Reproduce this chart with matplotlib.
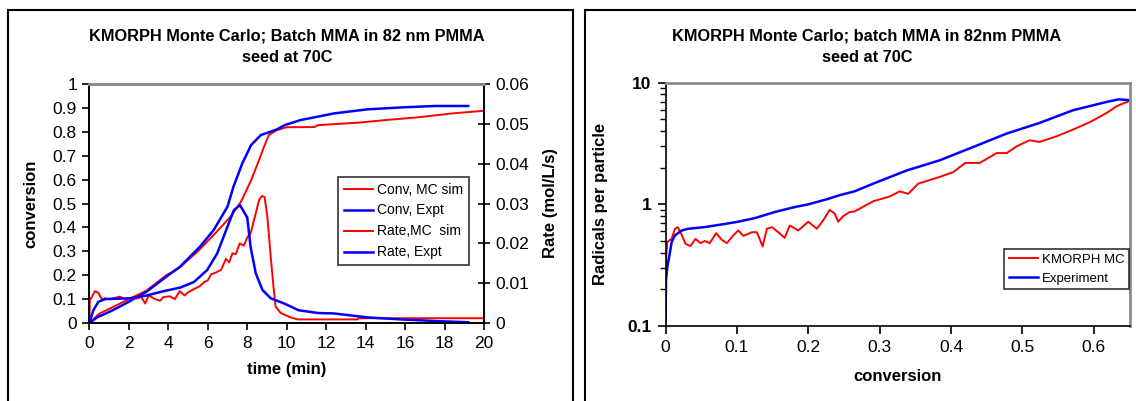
import matplotlib
matplotlib.use("Agg")
import matplotlib.pyplot as plt
from matplotlib.patches import Rectangle
from matplotlib.ticker import FixedLocator, LogLocator, NullFormatter

plt.rcParams['font.family'] = ['Liberation Sans', 'DejaVu Sans']

RED = '#ff0000'
BLUE = '#0000ff'

# ---- left chart: conversion and rate vs time ----
t_conv_mc = [0, 0.5, 1.2, 2.0, 2.9, 3.9, 4.5, 5.5, 6.5, 7.2, 7.7, 8.2, 8.6, 8.85, 9.1, 9.5,
             10.0, 11.4, 11.6, 13.6, 15.0, 16.7, 18.4, 20.0]
conv_mc = [0, 0.039, 0.067, 0.10, 0.136, 0.20, 0.227, 0.30, 0.386, 0.449, 0.51, 0.598, 0.682,
           0.738, 0.787, 0.807, 0.819, 0.82, 0.828, 0.838, 0.849, 0.861, 0.877, 0.888]

t_conv_ex = [0, 0.4, 1.2, 2.0, 2.9, 3.9, 4.6, 5.6, 6.3, 7.0, 7.3, 7.75, 8.2, 8.7, 9.0, 9.5,
             9.9, 10.7, 12.4, 14.1, 15.8, 17.5, 19.2]
conv_ex = [0, 0.024, 0.054, 0.089, 0.131, 0.194, 0.236, 0.319, 0.389, 0.487, 0.57, 0.668,
           0.745, 0.787, 0.795, 0.81, 0.828, 0.849, 0.877, 0.894, 0.902, 0.908, 0.908]

t_rate_mc = [0, 0.02, 0.12, 0.28, 0.45, 0.62, 0.78, 1.03, 1.53, 1.87, 2.45, 2.62, 2.83, 3.0,
             3.33, 3.58, 3.75, 4.08, 4.33, 4.58, 4.83, 5.0, 5.33, 5.58, 5.83, 6.0, 6.17, 6.33,
             6.67, 6.92, 7.08, 7.25, 7.42, 7.62, 7.83, 8.0, 8.17, 8.43, 8.6, 8.75, 8.88, 9.02,
             9.19, 9.33, 9.44, 9.7, 10.2, 10.55, 13.6, 13.65, 20.0]
rate_mc = [0, 0.0058, 0.0065, 0.0080, 0.0076, 0.0060, 0.0062, 0.0060, 0.0066, 0.0060, 0.0062,
           0.0066, 0.0049, 0.0069, 0.0060, 0.0056, 0.0065, 0.0067, 0.0060, 0.0080, 0.0069,
           0.0077, 0.0086, 0.0092, 0.0103, 0.0107, 0.0122, 0.0125, 0.0133, 0.0161, 0.0152,
           0.0175, 0.0173, 0.0200, 0.0194, 0.0215, 0.0225, 0.0275, 0.0309, 0.0319, 0.0316,
           0.0267, 0.0166, 0.0091, 0.0041, 0.0025, 0.0014, 0.0009, 0.0009, 0.0012, 0.0012]

t_rate_ex = [0, 0.2, 0.45, 0.8, 2.05, 2.9, 3.77, 4.61, 5.3, 5.97, 6.48, 6.99, 7.32, 7.63, 8.0,
             8.17, 8.43, 8.77, 9.19, 9.87, 10.6, 11.6, 12.4, 14.1, 15.8, 17.5, 19.2]
rate_ex = [0, 0.0032, 0.0053, 0.0060, 0.0062, 0.0069, 0.0080, 0.0089, 0.0103, 0.0133, 0.0175,
           0.0241, 0.0283, 0.0296, 0.0265, 0.0191, 0.0125, 0.0083, 0.0062, 0.0049, 0.0032,
           0.0025, 0.0024, 0.0014, 0.0009, 0.0005, 0.0002]

# ---- right chart: radicals per particle vs conversion ----
x_kmorph = [0, 0.001, 0.0025, 0.0063, 0.0086, 0.0133, 0.017, 0.022, 0.028, 0.035, 0.042, 0.049,
            0.055, 0.062, 0.071, 0.079, 0.086, 0.095, 0.102, 0.109, 0.121, 0.128, 0.133, 0.136,
            0.142, 0.149, 0.158, 0.167, 0.174, 0.186, 0.2, 0.212, 0.221, 0.23, 0.237, 0.242,
            0.249, 0.258, 0.265, 0.291, 0.314, 0.328, 0.34, 0.354, 0.384, 0.403, 0.42, 0.44,
            0.464, 0.478, 0.492, 0.51, 0.524, 0.548, 0.571, 0.595, 0.618, 0.632, 0.65]
n_kmorph = [0.22, 0.37, 0.49, 0.51, 0.52, 0.63, 0.65, 0.574, 0.474, 0.454, 0.52, 0.48, 0.50,
            0.48, 0.58, 0.51, 0.48, 0.556, 0.61, 0.55, 0.59, 0.59, 0.50, 0.45, 0.63, 0.65, 0.59,
            0.53, 0.67, 0.61, 0.72, 0.63, 0.74, 0.90, 0.84, 0.72, 0.80, 0.865, 0.875, 1.06, 1.16,
            1.28, 1.22, 1.48, 1.68, 1.84, 2.19, 2.19, 2.64, 2.64, 3.0, 3.36, 3.26, 3.63, 4.12,
            4.76, 5.64, 6.41, 7.08]

x_expt = [0, 0.0007, 0.0025, 0.0063, 0.0086, 0.0133, 0.0227, 0.032, 0.055, 0.079, 0.0997,
          0.125, 0.153, 0.181, 0.2, 0.228, 0.244, 0.265, 0.291, 0.338, 0.384, 0.431, 0.478,
          0.524, 0.571, 0.618, 0.635, 0.65]
n_expt = [0.1, 0.237, 0.305, 0.405, 0.49, 0.556, 0.61, 0.63, 0.65, 0.684, 0.716, 0.77, 0.865,
          0.95, 1.0, 1.11, 1.19, 1.28, 1.48, 1.90, 2.30, 2.96, 3.82, 4.67, 5.94, 6.95, 7.3,
          7.18]

W, H = 1136, 401
fig = plt.figure(figsize=(W / 100, H / 100), dpi=100)

# panel frames
for x0, x1 in [(8, 573), (585, 1160)]:
    fig.patches.append(Rectangle((x0 / W, -0.1), (x1 - x0) / W, 1.1 - 10 / H,
                                 transform=fig.transFigure, fill=False,
                                 edgecolor='black', lw=1.5, clip_on=False))


def px(x0, y_top, x1, y_bot):
    return [x0 / W, 1 - y_bot / H, (x1 - x0) / W, (y_bot - y_top) / H]


TICK = 12.5
LAB = 12

# ----- left -----
ax = fig.add_axes(px(89.4, 84, 484, 323))
ax2 = ax.twinx()
l1, = ax.plot(t_conv_mc, conv_mc, color=RED, lw=1.4)
l2, = ax.plot(t_conv_ex, conv_ex, color=BLUE, lw=1.8)
l3, = ax2.plot(t_rate_mc, rate_mc, color=RED, lw=1.4)
l4, = ax2.plot(t_rate_ex, rate_ex, color=BLUE, lw=1.8)
ax.set_xlim(0, 20)
ax.set_ylim(0, 1)
ax2.set_ylim(0, 0.06)
ax.set_xticks(range(0, 21, 2))
ax.set_yticks([i / 10 for i in range(11)])
ax.set_yticklabels(['0', '0.1', '0.2', '0.3', '0.4', '0.5', '0.6', '0.7', '0.8', '0.9', '1'])
ax2.set_yticks([0, 0.01, 0.02, 0.03, 0.04, 0.05, 0.06])
ax2.set_yticklabels(['0', '0.01', '0.02', '0.03', '0.04', '0.05', '0.06'])
ax.tick_params(labelsize=TICK, length=5, width=1.2, direction='out', pad=4)
ax2.tick_params(labelsize=TICK, length=8, width=1.2, direction='inout', pad=4)
for a in (ax, ax2):
    a.spines['top'].set_color('#8c8c8c')
    a.spines['top'].set_linewidth(2)
    a.spines['left'].set_linewidth(1.2)
    a.spines['bottom'].set_linewidth(1.2)
    a.spines['right'].set_linewidth(1.2)
ax.set_xlabel('time (min)', fontsize=LAB, fontweight='bold', labelpad=8)
ax.set_ylabel('conversion', fontsize=LAB, fontweight='bold', labelpad=10)
ax2.set_ylabel('Rate (mol/L/s)', fontsize=LAB, fontweight='bold', labelpad=10)
fig.text(287 / W, 1 - 36 / H, 'KMORPH Monte Carlo; Batch MMA in 82 nm PMMA',
         ha='center', va='center', fontsize=11.8, fontweight='bold')
fig.text(287 / W, 1 - 58 / H, 'seed at 70C', ha='center', va='center',
         fontsize=11.8, fontweight='bold')
leg = ax2.legend([l1, l2, l3, l4],
                 ['Conv, MC sim', 'Conv, Expt', 'Rate,MC  sim', 'Rate, Expt'],
                 loc='upper left', bbox_to_anchor=(338 / W, 1 - 177 / H),
                 bbox_transform=fig.transFigure, fontsize=10, frameon=True,
                 fancybox=False, borderaxespad=0, handlelength=2.1,
                 handletextpad=0.3, labelspacing=0.5, borderpad=0.4)
leg.get_frame().set_edgecolor('black')
leg.get_frame().set_linewidth(1.2)

# ----- right -----
bx = fig.add_axes(px(665.5, 82.7, 1129.5, 326))
k1, = bx.plot(x_kmorph, n_kmorph, color=RED, lw=1.4)
k2, = bx.plot(x_expt, n_expt, color=BLUE, lw=1.8)
bx.set_yscale('log')
bx.set_xlim(0, 0.65)
bx.set_ylim(0.1, 10)
bx.set_xticks([0, 0.1, 0.2, 0.3, 0.4, 0.5, 0.6])
bx.set_xticklabels(['0', '0.1', '0.2', '0.3', '0.4', '0.5', '0.6'])
bx.yaxis.set_major_locator(FixedLocator([0.1, 1, 10]))
bx.set_yticklabels(['0.1', '1', '10'], fontweight='bold')
bx.yaxis.set_minor_locator(LogLocator(base=10, subs=range(2, 10)))
bx.yaxis.set_minor_formatter(NullFormatter())
bx.tick_params(labelsize=TICK, length=6, width=1.2, direction='out', pad=4)
bx.tick_params(axis='y', which='minor', length=4, width=1)
for s in ('top', 'right'):
    bx.spines[s].set_color('#8c8c8c')
    bx.spines[s].set_linewidth(2)
bx.spines['left'].set_linewidth(1.2)
bx.spines['bottom'].set_linewidth(1.2)
bx.set_xlabel('conversion', fontsize=LAB, fontweight='bold', labelpad=10)
bx.set_ylabel('Radicals per particle', fontsize=LAB, fontweight='bold', labelpad=14)
fig.text(867 / W, 1 - 36 / H, 'KMORPH Monte Carlo; batch MMA in 82nm PMMA',
         ha='center', va='center', fontsize=11.8, fontweight='bold')
fig.text(867 / W, 1 - 58 / H, 'seed at 70C', ha='center', va='center',
         fontsize=11.8, fontweight='bold')
leg2 = bx.legend([k1, k2], ['KMORPH MC', 'Experiment'], loc='upper right',
                 bbox_to_anchor=(1129 / W, 1 - 249 / H), bbox_transform=fig.transFigure,
                 fontsize=9.5, frameon=True, fancybox=False, borderaxespad=0,
                 handlelength=2.2, handletextpad=0.3, labelspacing=0.5, borderpad=0.35)
leg2.get_frame().set_edgecolor('black')
leg2.get_frame().set_linewidth(1.2)

fig.savefig('out.png', dpi=100)
